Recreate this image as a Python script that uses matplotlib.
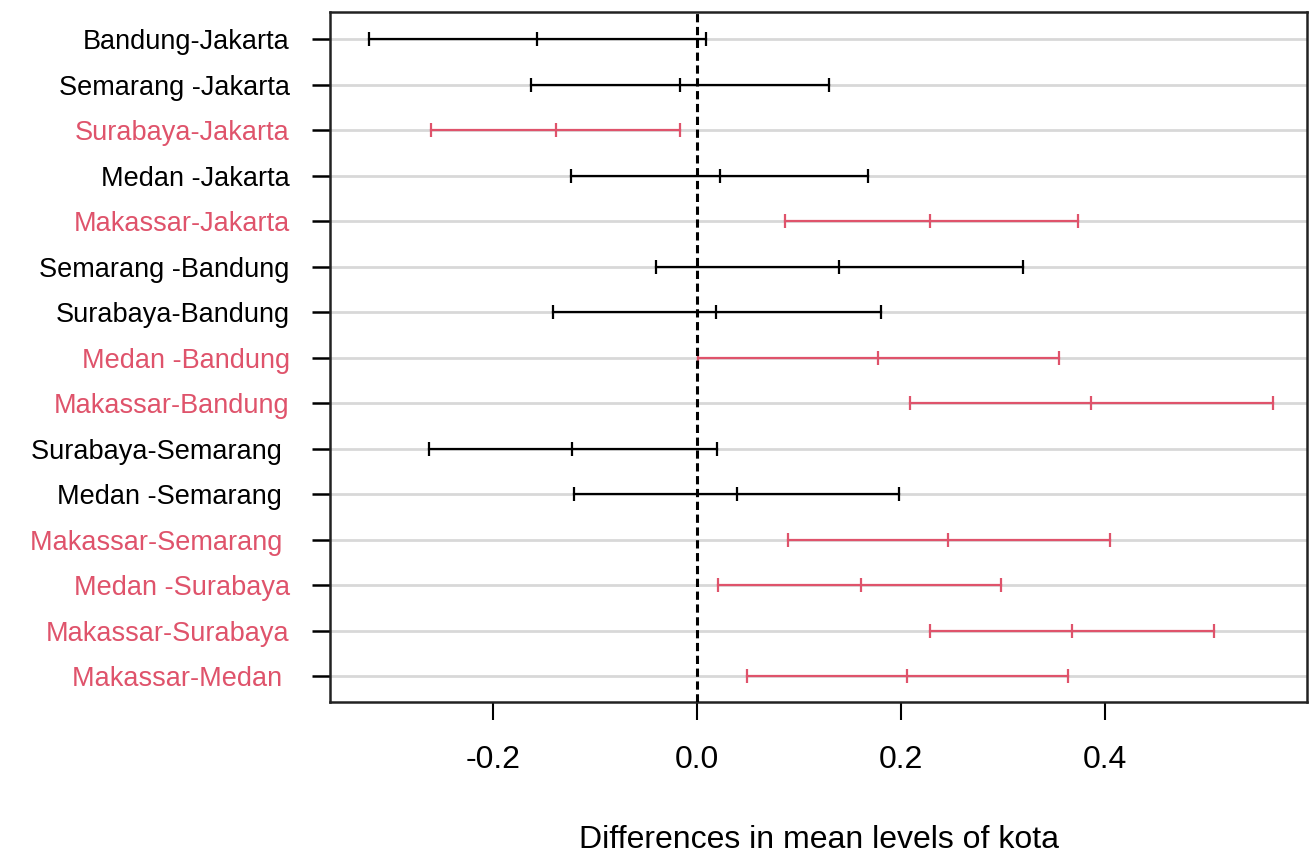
import matplotlib
matplotlib.use("Agg")
import matplotlib.pyplot as plt

# Tukey HSD comparisons for kota (top to bottom as in the plot)
comparisons = ["Bandung-Jakarta", "Semarang -Jakarta", "Surabaya-Jakarta", "Medan -Jakarta",
               "Makassar-Jakarta", "Semarang -Bandung", "Surabaya-Bandung", "Medan -Bandung",
               "Makassar-Bandung", "Surabaya-Semarang ", "Medan -Semarang ", "Makassar-Semarang ",
               "Medan -Surabaya", "Makassar-Surabaya", "Makassar-Medan "]
diff = [-0.157, -0.017, -0.139, 0.022, 0.228, 0.139, 0.018, 0.177,
        0.386, -0.123, 0.039, 0.246, 0.160, 0.367, 0.206]
lwr = [-0.322, -0.163, -0.261, -0.124, 0.086, -0.041, -0.142, 0.0005,
       0.208, -0.263, -0.121, 0.089, 0.020, 0.228, 0.049]
upr = [0.008, 0.129, -0.017, 0.167, 0.373, 0.319, 0.180, 0.355,
       0.564, 0.019, 0.198, 0.405, 0.298, 0.506, 0.363]
xticks = [-0.2, 0.0, 0.2, 0.4]

RED = "#DF536B"
plt.rcParams['font.family'] = ['Liberation Sans', 'DejaVu Sans']

fig = plt.figure(figsize=(13.1, 8.61), dpi=100)
ax = fig.add_axes([0.252, 0.185, 0.746, 0.801])

ypos = list(range(len(comparisons)))
colors = []
for lo, hi in zip(lwr, upr):
    colors.append(RED if (lo > 0 or hi < 0) else "black")

# light gray guide lines
for y in ypos:
    ax.axhline(y, color="#d8d8d8", lw=2.0, zorder=1)

ax.axvline(0, color="black", lw=2.2, linestyle=(0, (2.7, 1.5)), zorder=3)

for y, d, lo, hi, c in zip(ypos, diff, lwr, upr, colors):
    ax.plot([lo, hi], [y, y], color=c, lw=1.6, zorder=2)
    ax.plot([lo, d, hi], [y, y, y], linestyle="none", marker="|", markersize=10,
            markeredgewidth=1.6, color=c, zorder=2)

ax.set_xlim(-0.36, 0.598)
ax.set_ylim(len(comparisons) - 1 + 0.565, -0.593)

ax.set_yticks(ypos)
ax.set_yticklabels(comparisons, fontsize=19.5)
for lab, c in zip(ax.get_yticklabels(), colors):
    lab.set_color(c)

ax.set_xticks(xticks)
ax.set_xticklabels([f"{t:.1f}" for t in xticks], fontsize=23)
ax.tick_params(axis="x", length=13, width=1.5, pad=18)
ax.tick_params(axis="y", length=13, width=1.8, pad=16)
ax.set_xlabel("Differences in mean levels of kota", fontsize=23, labelpad=36)

for s in ax.spines.values():
    s.set_linewidth(1.8)
    s.set_color("#222222")

fig.savefig("out.png", dpi=100)
